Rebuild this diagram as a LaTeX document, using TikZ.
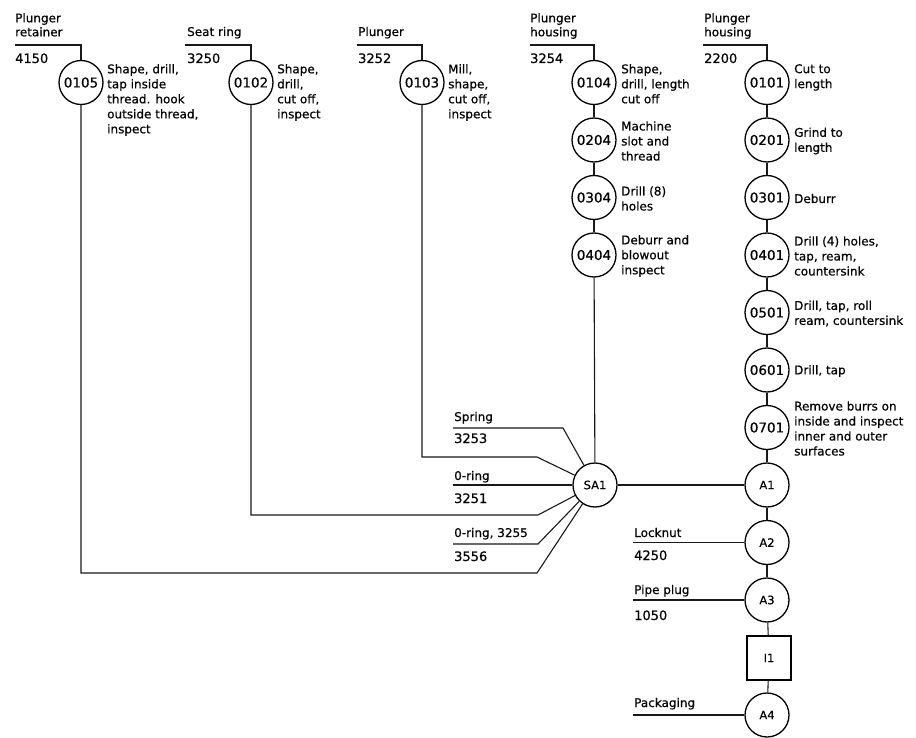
\documentclass[tikz,border=0pt]{standalone}
\usepackage{fontspec}
\setmainfont{DejaVu Sans}[FakeBold=0.5]
\begin{document}
\begin{tikzpicture}[x=1pt,y=-1pt,
  op/.style={circle, draw, line width=1.3pt, minimum size=44pt, inner sep=0pt, font=\fontsize{13.5}{15}\selectfont},
  asm/.style={circle, draw, line width=1.3pt, minimum size=44pt, inner sep=0pt, font=\fontsize{11.5}{14}\selectfont},
  insp/.style={rectangle, draw, line width=1.2pt, minimum size=44pt, inner sep=0pt, font=\fontsize{11.5}{14}\selectfont},
  desc/.style={align=left, inner sep=0pt, font=\fontsize{12}{15}\selectfont},
  toplbl/.style={align=left, inner sep=0pt, anchor=north west, font=\fontsize{12}{14}\selectfont},
  lbl/.style={inner sep=0pt, anchor=base west, font=\fontsize{12}{14}\selectfont},
  num/.style={inner sep=0pt, anchor=base west, font=\fontsize{13}{14}\selectfont},
  link/.style={line width=1.1pt, draw=black!90}]
\useasboundingbox[fill=white] (0,0) rectangle (916,738);

% ---------- operation circles, top row ----------
\node[op] (n0105) at (81,82.5) {0105};
\node[op] (n0102) at (251,82.5) {0102};
\node[op] (n0103) at (422,82.5) {0103};
% middle column
\node[op] (n0104) at (594,82.5) {0104};
\node[op] (n0204) at (594,140) {0204};
\node[op] (n0304) at (594,197.5) {0304};
\node[op] (n0404) at (594,255) {0404};
% right column
\node[op] (n0101) at (767,82.5) {0101};
\node[op] (n0201) at (767,140) {0201};
\node[op] (n0301) at (767,197.5) {0301};
\node[op] (n0401) at (767,255) {0401};
\node[op] (n0501) at (767,312.5) {0501};
\node[op] (n0601) at (767,370) {0601};
\node[op] (n0701) at (767,427.5) {0701};
\node[asm] (A1) at (767,485) {A1};
\node[asm] (A2) at (767,542.5) {A2};
\node[asm] (A3) at (767,600) {A3};
\node[insp] (I1) at (769,658) {I1};
\node[asm] (A4) at (767,715) {A4};
\node[asm] (SA1) at (595,485) {SA1};

% ---------- descriptions ----------
\node[desc, anchor=north west] (d0105) at (107,64) {Shape, drill,\\tap inside\\thread. hook\\outside thread,\\inspect};
\node[desc, anchor=north west] (d0102) at (277,64) {Shape,\\drill,\\cut off,\\inspect};
\node[desc, anchor=north west] (d0103) at (448,64) {Mill,\\shape,\\cut off,\\inspect};
\node[desc, anchor=north west] (d0104) at (621,64) {Shape,\\drill, length\\cut off};
\node[desc, anchor=west] (d0204) at (621,141) {Machine\\slot and\\thread};
\node[desc, anchor=west] (d0304) at (621,198.5) {Drill (8)\\holes};
\node[desc, anchor=west] (d0404) at (621,256) {Deburr and\\blowout\\inspect};
\node[desc, anchor=north west] (d0101) at (794,64) {Cut to\\length};
\node[desc, anchor=west] (d0201) at (794,141) {Grind to\\length};
\node[desc, anchor=west] (d0301) at (794,198.5) {Deburr};
\node[desc, anchor=west] (d0401) at (794,256) {Drill (4) holes,\\tap, ream,\\countersink};
\node[desc, anchor=west] (d0501) at (794,313.5) {Drill, tap, roll\\ream, countersink};
\node[desc, anchor=west] (d0601) at (794,371) {Drill, tap};
\node[desc, anchor=west] (d0701) at (794,428.5) {Remove burrs on\\inside and inspect\\inner and outer\\surfaces};

% ---------- part labels, top ----------
\node[toplbl] (t4150) at (15,13) {Plunger\\retainer};
\node[num] (p4150) at (15,63) {4150};
\node[lbl] (t3250) at (187,36) {Seat ring};
\node[num] (p3250) at (187,63) {3250};
\node[lbl] (t3252) at (358,36) {Plunger};
\node[num] (p3252) at (358,63) {3252};
\node[toplbl] (t3254) at (530,13) {Plunger\\housing};
\node[num] (p3254) at (530,63) {3254};
\node[toplbl] (t2200) at (704,13) {Plunger\\housing};
\node[num] (p2200) at (704,63) {2200};

% ---------- part labels, bottom ----------
\node[lbl] (tSpring) at (454,421) {Spring};
\node[num] (p3253) at (454,443) {3253};
\node[lbl] (tOring1) at (454,480) {0-ring};
\node[num] (p3251) at (454,503) {3251};
\node[lbl] (tOring2) at (454,537) {0-ring, 3255};
\node[num] (p3556) at (454,561) {3556};
\node[lbl] (tLock) at (634,537) {Locknut};
\node[num] (p4250) at (634,560) {4250};
\node[lbl] (tPipe) at (634,594) {Pipe plug};
\node[num] (p1050) at (634,620) {1050};
\node[lbl] (tPack) at (634,707) {Packaging};

% ---------- connector end points ----------
\coordinate (s4150) at (15,45);
\coordinate (s3250) at (185,45);
\coordinate (s3252) at (357,45);
\coordinate (s3254) at (530,45);
\coordinate (s2200) at (703,45);
\coordinate (k0105) at (537,573);
\coordinate (k0102) at (538,515);
\coordinate (k0103) at (537,457);
\coordinate (sSpring) at (453,428);
\coordinate (kSpring) at (563,428);
\coordinate (sOring1) at (453,485);
\coordinate (sOring2) at (453,544);
\coordinate (kOring2) at (538,544);
\coordinate (sLock) at (633,542.5);
\coordinate (sPipe) at (633,600);
\coordinate (sPack) at (633,715);

% ---------- connectors ----------
\draw[link] (s4150) -| (n0105.north);
\draw[link] (s3250) -| (n0102.north);
\draw[link] (s3252) -| (n0103.north);
\draw[link] (s3254) -| (n0104.north);
\draw[link] (s2200) -| (n0101.north);

\draw[link] (n0104) -- (n0204);
\draw[link] (n0204) -- (n0304);
\draw[link] (n0304) -- (n0404);
\draw[link] (n0404) -- (SA1);

\draw[link] (n0101) -- (n0201);
\draw[link] (n0201) -- (n0301);
\draw[link] (n0301) -- (n0401);
\draw[link] (n0401) -- (n0501);
\draw[link] (n0501) -- (n0601);
\draw[link] (n0601) -- (n0701);
\draw[link] (n0701) -- (A1);
\draw[link] (A1) -- (A2);
\draw[link] (A2) -- (A3);
\draw[link] (A3) -- (I1);
\draw[link] (I1) -- (A4);

\draw[link] (n0105.south) |- (k0105) -- (SA1);
\draw[link] (n0102.south) |- (k0102) -- (SA1);
\draw[link] (n0103.south) |- (k0103) -- (SA1);
\draw[link] (sSpring) -- (kSpring) -- (SA1);
\draw[link] (sOring1) -- (SA1);
\draw[link] (sOring2) -- (kOring2) -- (SA1);
\draw[link] (SA1) -- (A1);
\draw[link] (sLock) -- (A2);
\draw[link] (sPipe) -- (A3);
\draw[link] (sPack) -- (A4);
\end{tikzpicture}
\end{document}
